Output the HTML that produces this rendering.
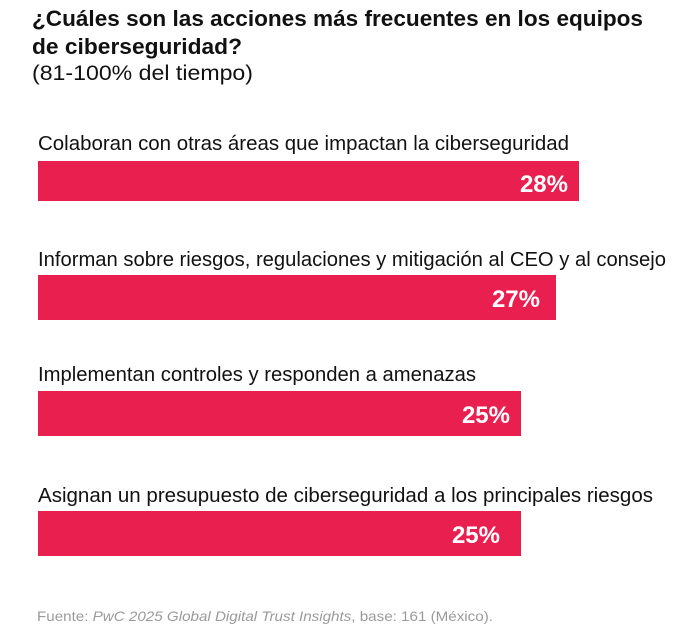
<!DOCTYPE html>
<html><head><meta charset="utf-8"><style>html,body{margin:0;padding:0;background:#fff}svg{display:block}</style></head>
<body>
<svg width="700" height="637" xmlns="http://www.w3.org/2000/svg" font-family="Liberation Sans, sans-serif">
<text x="32" y="26" font-size="22" font-weight="bold" fill="#111" textLength="611" lengthAdjust="spacingAndGlyphs">¿Cuáles son las acciones más frecuentes en los equipos</text>
<text x="32" y="54" font-size="22" font-weight="bold" fill="#111" textLength="210" lengthAdjust="spacingAndGlyphs">de ciberseguridad?</text>
<text x="32" y="80" font-size="21" fill="#111" textLength="221" lengthAdjust="spacingAndGlyphs">(81-100% del tiempo)</text>

<text x="38" y="150" font-size="20" fill="#111" textLength="531" lengthAdjust="spacingAndGlyphs">Colaboran con otras áreas que impactan la ciberseguridad</text>
<rect x="38" y="161" width="541" height="40" fill="#E91F4F"/>
<text x="568" y="192" font-size="24" font-weight="bold" fill="#fff" text-anchor="end">28%</text>

<text x="38" y="266" font-size="20" fill="#111" textLength="628" lengthAdjust="spacingAndGlyphs">Informan sobre riesgos, regulaciones y mitigación al CEO y al consejo</text>
<rect x="38" y="275" width="518" height="45" fill="#E91F4F"/>
<text x="540" y="307" font-size="24" font-weight="bold" fill="#fff" text-anchor="end">27%</text>

<text x="38" y="381" font-size="20" fill="#111" textLength="438" lengthAdjust="spacingAndGlyphs">Implementan controles y responden a amenazas</text>
<rect x="38" y="391" width="483" height="45" fill="#E91F4F"/>
<text x="510" y="423" font-size="24" font-weight="bold" fill="#fff" text-anchor="end">25%</text>

<text x="38" y="502" font-size="20" fill="#111" textLength="615" lengthAdjust="spacingAndGlyphs">Asignan un presupuesto de ciberseguridad a los principales riesgos</text>
<rect x="38" y="511" width="483" height="45" fill="#E91F4F"/>
<text x="500" y="543" font-size="24" font-weight="bold" fill="#fff" text-anchor="end">25%</text>

<text x="37" y="621" font-size="14" fill="#9a9a9a" textLength="456" lengthAdjust="spacingAndGlyphs">Fuente: <tspan font-style="italic">PwC 2025 Global Digital Trust Insights</tspan>, base: 161 (México).</text>
</svg>
</body></html>
